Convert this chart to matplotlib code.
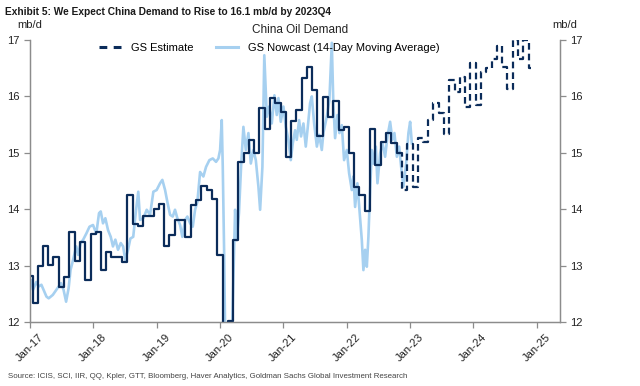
import numpy as np
import pandas as pd
import matplotlib.pyplot as plt
import matplotlib.dates as mdates
from matplotlib.lines import Line2D

plt.rcParams['font.family'] = ['Liberation Sans', 'DejaVu Sans']
narrow = ['Liberation Sans Narrow', 'Liberation Sans', 'DejaVu Sans']

navy = '#0b2c5a'
light = '#a6d0f0'

# monthly GS series, Jan-17 .. Nov-22 (actual, solid)
hist_vals = [12.82, 12.34, 12.99, 13.34, 13.01, 13.15, 12.62, 12.80, 13.60, 13.09, 13.42, 12.74,
             13.56, 13.60, 12.92, 13.24, 13.16, 13.16, 13.07, 14.25, 13.73, 13.70, 13.88, 13.88,
             14.00, 14.09, 13.35, 13.54, 13.81, 13.81, 13.51, 14.07, 14.16, 14.42, 14.34, 14.18,
             13.19, 11.60, 12.02, 13.45, 14.84, 15.00, 15.23, 14.99, 15.79, 15.43, 15.98, 15.88,
             15.73, 14.93, 15.57, 15.76, 16.32, 16.53, 16.11, 15.30, 15.99, 15.64, 15.91, 15.40,
             15.46, 14.99, 14.40, 14.25, 13.96, 15.42, 14.78, 15.20, 15.35, 15.17, 14.99]
# GS estimate, Nov-22 .. Dec-24 (dashed)
est_vals = [14.99, 14.34, 15.15, 14.40, 15.26, 15.20, 15.58, 15.89, 15.70, 15.33, 16.29, 16.08,
            16.35, 15.82, 16.60, 15.84, 16.44, 16.50, 16.67, 16.90, 16.53, 16.14, 17.00, 16.66,
            17.00, 16.50]

# nowcast (14-day moving average), decimal year and value
nowcast_t = [2017.02, 2017.047, 2017.10, 2017.137, 2017.18, 2017.26, 2017.295, 2017.36, 2017.415,
             2017.45, 2017.49, 2017.53, 2017.57, 2017.61, 2017.64, 2017.68, 2017.73, 2017.76,
             2017.80, 2017.84, 2017.89, 2017.94, 2017.995, 2018.047, 2018.09, 2018.117, 2018.153,
             2018.19, 2018.232, 2018.275, 2018.31, 2018.348, 2018.39, 2018.433, 2018.47, 2018.505,
             2018.548, 2018.585, 2018.63, 2018.675, 2018.71, 2018.738, 2018.79, 2018.843, 2018.896,
             2018.948, 2019.0, 2019.054, 2019.09, 2019.133, 2019.169, 2019.212, 2019.254, 2019.29,
             2019.327, 2019.37, 2019.406, 2019.449, 2019.485, 2019.528, 2019.57, 2019.607, 2019.643,
             2019.686, 2019.738, 2019.78, 2019.833, 2019.886, 2019.938, 2019.975, 2020.002, 2020.028,
             2020.044, 2020.065, 2020.085, 2020.128, 2020.175, 2020.19, 2020.239, 2020.265, 2020.30,
             2020.333, 2020.37, 2020.408, 2020.449, 2020.487, 2020.528, 2020.566, 2020.607, 2020.634,
             2020.67, 2020.70, 2020.74, 2020.776, 2020.818, 2020.86, 2020.897, 2020.923, 2020.96,
             2021.002, 2021.04, 2021.08, 2021.118, 2021.15, 2021.186, 2021.213, 2021.25, 2021.28,
             2021.318, 2021.355, 2021.387, 2021.423, 2021.45, 2021.487, 2021.53, 2021.566, 2021.608,
             2021.633, 2021.687, 2021.728, 2021.766, 2021.79, 2021.818, 2021.855, 2021.886, 2021.924,
             2021.96, 2022.003, 2022.039, 2022.082, 2022.107, 2022.134, 2022.17, 2022.202, 2022.24,
             2022.265, 2022.292, 2022.319, 2022.344, 2022.371, 2022.398, 2022.423, 2022.461, 2022.487,
             2022.529, 2022.566, 2022.608, 2022.645, 2022.687, 2022.723, 2022.755, 2022.793, 2022.829,
             2022.861, 2022.897, 2022.94, 2022.976, 2023.003, 2023.03]
nowcast_vals = [12.74, 12.57, 12.71, 12.63, 12.66, 12.45, 12.42, 12.48, 12.57,
                12.63, 12.69, 12.57, 12.36, 12.60, 12.92, 13.10, 13.34, 13.19,
                13.40, 13.46, 13.57, 13.69, 13.72, 13.57, 13.93, 13.96, 13.75,
                13.84, 13.63, 13.51, 13.34, 13.46, 13.28, 13.40, 13.34, 13.10,
                13.28, 13.48, 13.51, 13.99, 14.31, 13.81, 13.84, 13.99, 13.90,
                14.31, 14.34, 14.46, 14.52, 14.34, 14.13, 13.90, 13.87, 13.99,
                13.84, 13.72, 13.51, 13.81, 13.87, 13.75, 13.69, 13.99, 14.13,
                14.66, 14.58, 14.75, 14.87, 14.90, 14.84, 14.90, 15.05, 15.58,
                14.75, 13.28, 11.50, 11.30, 11.50, 11.80, 13.99, 13.45, 13.93,
                14.75, 15.46, 15.05, 15.35, 14.81, 15.05, 14.87, 14.40, 13.99,
                14.75, 16.73, 15.64, 15.82, 15.52, 16.02, 15.67, 15.97, 15.55,
                15.82, 15.46, 15.23, 14.87, 15.17, 15.40, 15.23, 15.58, 15.29,
                15.52, 15.11, 15.46, 15.88, 16.00, 15.52, 15.11, 15.32, 15.05,
                15.35, 15.64, 15.94, 16.95, 15.88, 15.26, 15.67, 15.35, 15.49,
                14.87, 15.05, 14.64, 14.34, 14.58, 14.04, 14.46, 13.99, 13.45,
                12.92, 13.28, 12.98, 13.51, 14.34, 15.05, 14.81, 15.11, 14.46,
                14.99, 15.17, 14.93, 15.29, 15.55, 15.23, 15.35, 14.93, 15.11,
                14.75, 14.40, 14.81, 15.35, 15.55, 15.17]

months = pd.date_range('2017-01-01', '2024-12-01', freq='MS')
hist_dates = months[:len(hist_vals)]
est_dates = months[len(hist_vals) - 1:]
t = np.array(nowcast_t)
nowcast_dates = pd.Timestamp('2017-01-01') + pd.to_timedelta((t - 2017) * 365.25, unit='D')

fig = plt.figure(figsize=(6.4, 3.86), dpi=100)
ax = fig.add_axes([30/640, 1 - 322/386, 530/640, 282/386])

ax.plot(nowcast_dates, nowcast_vals, color=light, lw=1.9, zorder=2)
ax.step(hist_dates, hist_vals, where='mid', color=navy, lw=1.6, zorder=3)
ax.step(est_dates, est_vals, where='mid', color=navy, lw=1.6, ls=(0, (3, 1.8)), zorder=3)

ax.set_ylim(12, 17)
ax.set_xlim(pd.Timestamp('2017-01-01'), pd.Timestamp('2025-05-16'))
ax.xaxis.set_major_locator(mdates.YearLocator())
ax.xaxis.set_major_formatter(mdates.DateFormatter('%b-%y'))
ax.set_yticks([12, 13, 14, 15, 16, 17])

ax2 = ax.twinx()
ax2.set_ylim(12, 17)
ax2.set_yticks([12, 13, 14, 15, 16, 17])

for a in (ax, ax2):
    a.spines['top'].set_visible(False)
    for s in ('left', 'right', 'bottom'):
        a.spines[s].set_color('#8c8c8c')
        a.spines[s].set_linewidth(0.9)
    a.tick_params(colors='#8c8c8c', labelcolor='#222222', labelsize=8, length=4, width=0.9)
ax.tick_params(axis='x', labelrotation=45)

fig.text(5/640, 1 - 12/386, 'Exhibit 5: We Expect China Demand to Rise to 16.1 mb/d by 2023Q4',
         family=narrow, fontsize=7.3, fontweight='bold', va='center', color='#1a1a1a')
fig.text(17/640, 1 - 25/386, 'mb/d', fontsize=8, va='center', color='#222222')
fig.text(565/640, 1 - 25/386, 'mb/d', fontsize=8, va='center', ha='center', color='#222222')
fig.text(300/640, 1 - 30/386, 'China Oil Demand', fontsize=8.5, va='center', ha='center', color='#222222')
fig.text(8/640, 1 - 377/386,
         'Source: ICIS, SCI, IIR, QQ, Kpler, GTT, Bloomberg, Haver Analytics, Goldman Sachs Global Investment Research',
         family=narrow, fontsize=5.7, va='center', color='#444444')

handles = [Line2D([], [], color=navy, lw=2.2, ls=(0, (2.55, 2.1))),
           Line2D([], [], color=light, lw=2.2)]
fig.legend(handles, ['GS Estimate', 'GS Nowcast (14-Day Moving Average)'],
           loc='center left', bbox_to_anchor=(93/640, 1 - 48/386), ncol=2, frameon=False,
           fontsize=8, borderpad=0, handlelength=2.0, handletextpad=0.9, columnspacing=2.0)

fig.savefig('out.png', dpi=100)
